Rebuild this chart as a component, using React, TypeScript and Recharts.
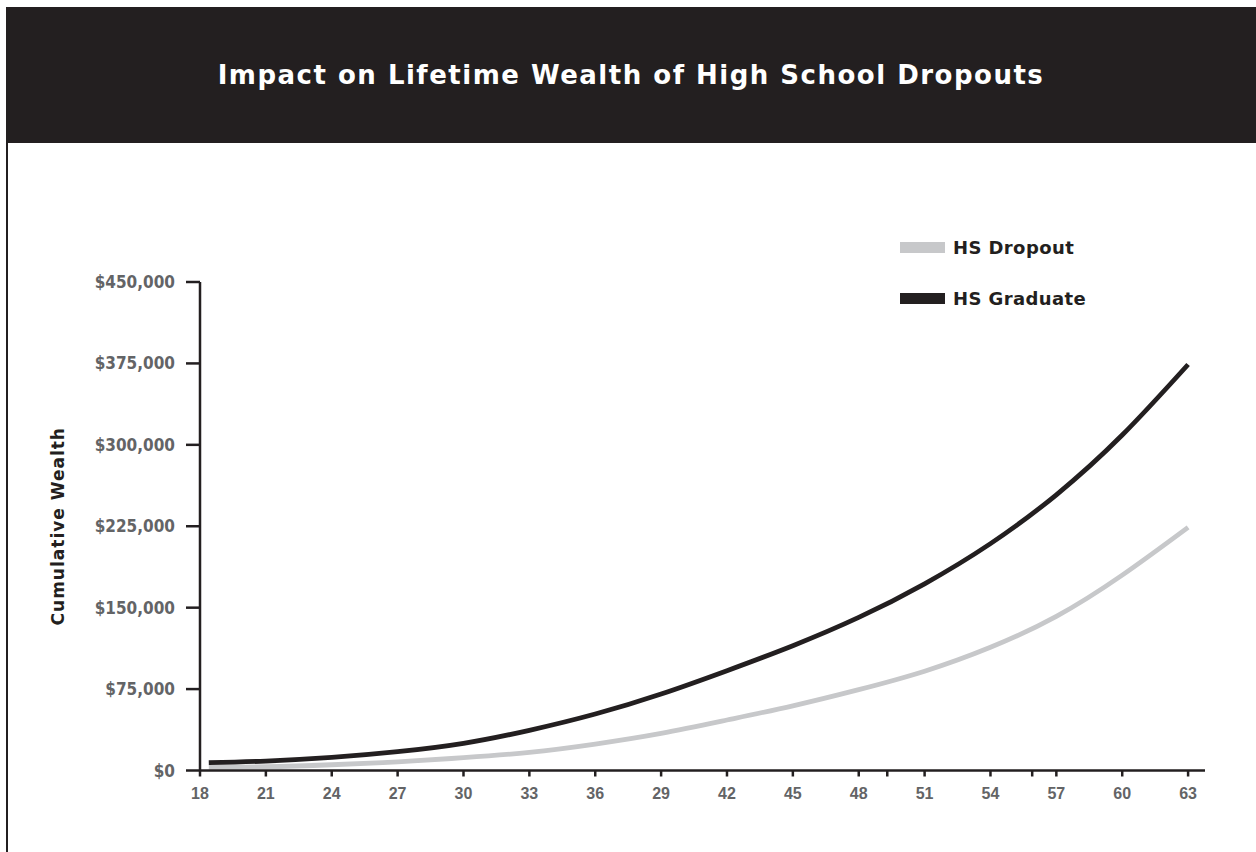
import { LineChart, Line, XAxis, YAxis } from "recharts";

const AGES = [18.4, 21, 24, 27, 30, 33, 36, 39, 42, 45, 48, 51, 54, 57, 60, 63];
const HS_DROPOUT = [3000, 3500, 5300, 8000, 11800, 16700, 24400, 34200, 46500, 59600, 74500, 91500, 113500, 142000, 180000, 224000];
const HS_GRADUATE = [7200, 8700, 12000, 17300, 25000, 37000, 52000, 70500, 92000, 115000, 141000, 172000, 209000, 254000, 309000, 374000];

const AGE_TICKS = [18, 21, 24, 27, 30, 33, 36, 39, 42, 45, 48, 51, 54, 57, 60, 63];
// the printed axis really says "29" where 39 belongs
const TICK_LABELS = ["18", "21", "24", "27", "30", "33", "36", "29", "42", "45", "48", "51", "54", "57", "60", "63"];
const STRAY_TICKS = [49.3, 55.9];
const WEALTH_TICKS = [0, 75000, 150000, 225000, 300000, 375000, 450000];

const INK = "#231f20";
const GREY_LINE = "#c7c8ca";
const TICK_TEXT = "#636466";

const SERIES = [
  { key: "dropout", name: "HS Dropout", color: GREY_LINE },
  { key: "graduate", name: "HS Graduate", color: INK },
];

const data = AGES.map((age, i) => ({
  age,
  dropout: HS_DROPOUT[i],
  graduate: HS_GRADUATE[i],
}));

const App = () => {
  const xLabel = (v: number) => {
    const i = AGE_TICKS.indexOf(v);
    return i >= 0 ? TICK_LABELS[i] : "";
  };

  return (
    <div style={{ position: "absolute", left: 0, top: 0, width: 1256, height: 852, background: "#fff", overflow: "hidden" }}>
      {/* header band */}
      <div
        style={{
          position: "absolute",
          left: 6,
          top: 7,
          width: 1250,
          height: 136,
          background: INK,
          color: "#fff",
          display: "flex",
          alignItems: "center",
          justifyContent: "center",
          fontFamily: "'DejaVu Sans', sans-serif",
          fontWeight: 700,
          fontSize: 26,
          letterSpacing: 1.5,
        }}
      >
        Impact on Lifetime Wealth of High School Dropouts
      </div>
      {/* left frame edge */}
      <div style={{ position: "absolute", left: 6, top: 143, width: 2, height: 709, background: INK }} />

      {/* legend */}
      <div style={{ position: "absolute", left: 900, top: 222 }}>
        {SERIES.map((s) => (
          <div key={s.key} style={{ display: "flex", alignItems: "center", height: 51 }}>
            <div style={{ width: 45, height: 11, backgroundColor: s.color, marginRight: 8 }} />
            <span
              style={{
                fontFamily: "'DejaVu Sans', sans-serif",
                fontWeight: 700,
                fontSize: 18,
                letterSpacing: 0.4,
                color: INK,
              }}
            >
              {s.name}
            </span>
          </div>
        ))}
      </div>

      <div style={{ position: "absolute", left: 0, top: 0 }}>
        <LineChart
          width={1256}
          height={852}
          data={data}
          margin={{ top: 282, right: 51, bottom: 41.5, left: 80 }}
        >
          <XAxis
            dataKey="age"
            type="number"
            domain={[18, 63.77]}
            ticks={[...AGE_TICKS, ...STRAY_TICKS]}
            tickFormatter={xLabel}
            interval={0}
            height={40}
            tickSize={6}
            tickMargin={11}
            axisLine={{ stroke: INK, strokeWidth: 2.5 }}
            tickLine={{ stroke: INK, strokeWidth: 2.5 }}
            tick={{
              fill: TICK_TEXT,
              fontFamily: "'Liberation Sans Narrow', sans-serif",
              fontWeight: 700,
              fontSize: 16,
            }}
          />
          <YAxis
            type="number"
            domain={[0, 450000]}
            ticks={WEALTH_TICKS}
            interval={0}
            width={120}
            tickSize={14}
            tickMargin={11}
            tickFormatter={(v: number) => `$${v.toLocaleString("en-US")}`}
            axisLine={{ stroke: INK, strokeWidth: 2.5 }}
            tickLine={{ stroke: INK, strokeWidth: 2.5 }}
            tick={{
              fill: TICK_TEXT,
              fontFamily: "'DejaVu Sans Condensed', 'DejaVu Sans', sans-serif",
              fontStretch: "condensed",
              fontWeight: 700,
              fontSize: 17,
            }}
            label={{
              value: "Cumulative Wealth",
              angle: -90,
              position: "left",
              offset: 22,
              fill: INK,
              style: {
                fontFamily: "'DejaVu Sans', sans-serif",
                fontWeight: 700,
                fontSize: 17,
                letterSpacing: 1,
                textAnchor: "middle",
              },
            }}
          />
          {SERIES.map((s) => (
            <Line
              key={s.key}
              type="natural"
              dataKey={s.key}
              name={s.name}
              stroke={s.color}
              strokeWidth={4.8}
              dot={false}
              activeDot={false}
              isAnimationActive={false}
            />
          ))}
        </LineChart>
      </div>
    </div>
  );
};

export default App;
